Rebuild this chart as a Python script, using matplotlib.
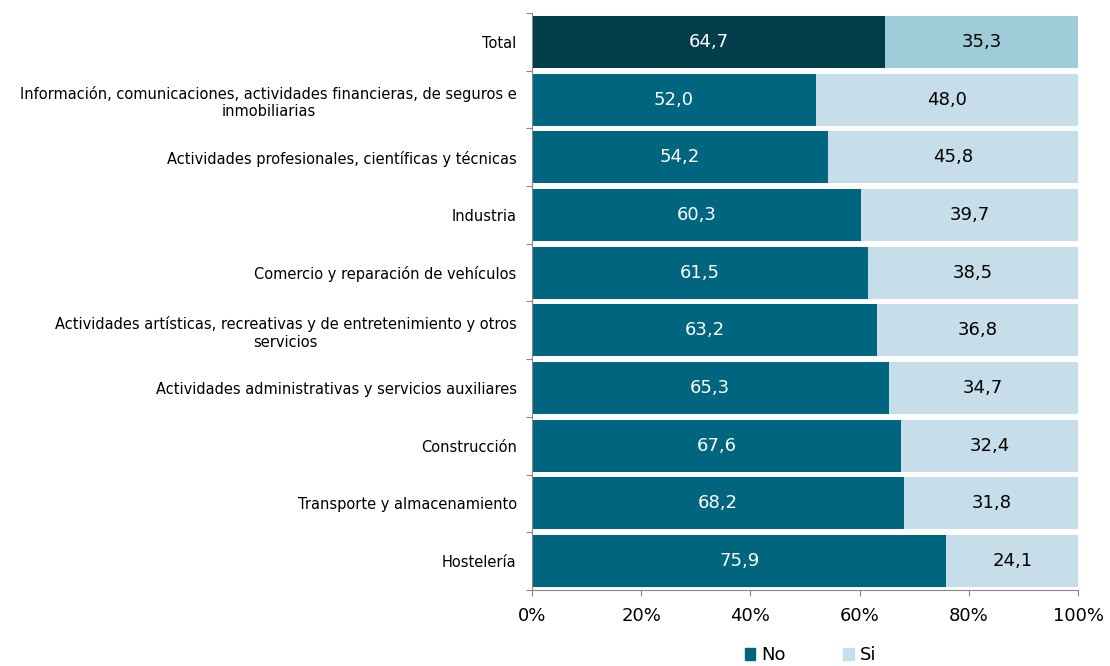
import numpy as np
import matplotlib.pyplot as plt
from matplotlib.patches import Patch

# Porcentaje de empresas por sector (No / Si)
sectores = [
    'Total',
    'Información, comunicaciones, actividades financieras, de seguros e\ninmobiliarias',
    'Actividades profesionales, científicas y técnicas',
    'Industria',
    'Comercio y reparación de vehículos',
    'Actividades artísticas, recreativas y de entretenimiento y otros\nservicios',
    'Actividades administrativas y servicios auxiliares',
    'Construcción',
    'Transporte y almacenamiento',
    'Hostelería',
]
no = [64.7, 52.0, 54.2, 60.3, 61.5, 63.2, 65.3, 67.6, 68.2, 75.9]
si = [35.3, 48.0, 45.8, 39.7, 38.5, 36.8, 34.7, 32.4, 31.8, 24.1]

col_no = ['#023d4c'] + ['#006680'] * 9
col_si = ['#9ecdd9'] + ['#c5dee9'] * 9

fig = plt.figure(figsize=(11.1, 6.66), dpi=100)
ax = fig.add_axes([0.4793, 0.1141, 0.4919, 0.8664])

y = np.arange(len(sectores))
no_frac = np.array(no) / 100
si_frac = np.array(si) / 100
ax.barh(y, no_frac, height=0.9, color=col_no)
ax.barh(y, si_frac, left=no_frac, height=0.9, color=col_si)

for i in range(len(sectores)):
    ax.text(no_frac[i] / 2, y[i], f'{no[i]:.1f}'.replace('.', ','),
            ha='center', va='center', color='white', fontsize=13)
    ax.text(no_frac[i] + si_frac[i] / 2, y[i], f'{si[i]:.1f}'.replace('.', ','),
            ha='center', va='center', color='black', fontsize=13)

ax.set_xlim(0, 1)
ax.set_ylim(len(sectores) - 0.5, -0.5)
ax.set_xticks(np.linspace(0, 1, 6))
ax.set_xticklabels([f'{int(v)}%' for v in np.linspace(0, 100, 6)], fontsize=13)

# marcas en los límites entre categorías, etiquetas centradas
ax.set_yticks(np.arange(-0.5, len(sectores), 1))
ax.set_yticklabels([])
ax.set_yticks(y, minor=True)
ax.set_yticklabels(sectores, minor=True, fontsize=10.5, ha='right',
                   multialignment='center')
ax.tick_params(axis='y', which='minor', length=0, pad=11)
ax.tick_params(axis='y', which='major', length=4, color='#888888')
ax.tick_params(axis='x', length=4, color='#888888', pad=8)

for s in ['top', 'right']:
    ax.spines[s].set_visible(False)
for s in ['left', 'bottom']:
    ax.spines[s].set_color('#888888')

handles = [Patch(color='#006680', label='No'), Patch(color='#c5dee9', label='Si')]
fig.legend(handles=handles, loc='center', bbox_to_anchor=(0.73, 0.016), ncol=2,
           frameon=False, fontsize=13, handlelength=0.6, handleheight=0.6,
           handletextpad=0.3, columnspacing=3.2)

fig.savefig('out.png', dpi=100)
